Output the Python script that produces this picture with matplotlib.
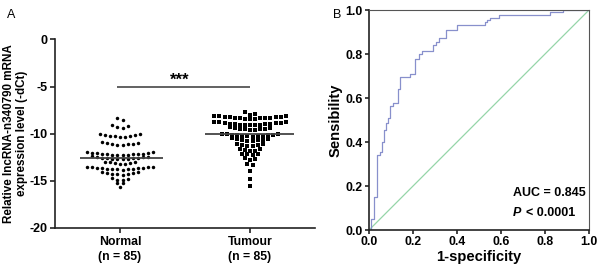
import numpy as np
import matplotlib
matplotlib.use('Agg')
import matplotlib.pyplot as plt

plt.rcParams['font.family'] = ['Liberation Sans', 'DejaVu Sans']
plt.rcParams['axes.unicode_minus'] = False

# panel A data (-dCt), 85 per group
normal = [-8.35, -8.5,
          -9.1, -9.2, -9.3, -9.4,
          -10.0, -10.05, -10.1, -10.15, -10.2, -10.22, -10.25, -10.3, -10.33,
          -10.9, -10.95, -11.0, -11.04, -11.08, -11.12, -11.16, -11.2,
          -11.95, -11.98, -12.0, -12.03, -12.06, -12.1, -12.12, -12.15, -12.18,
          -12.2, -12.22, -12.24, -12.26, -12.28,
          -12.4, -12.43, -12.46, -12.5, -12.53, -12.56, -12.6, -12.62, -12.65,
          -12.68, -12.7, -12.72,
          -12.95, -13.0, -13.05, -13.1, -13.15, -13.2, -13.25,
          -13.5, -13.52, -13.55, -13.58, -13.6, -13.62, -13.65, -13.68, -13.7,
          -13.72, -13.74, -13.76, -13.78, -13.8,
          -14.05, -14.1, -14.15, -14.2, -14.25, -14.28, -14.32, -14.35,
          -14.7, -14.8, -14.9, -14.95,
          -15.2, -15.25,
          -15.7]
tumour = [-7.66, -7.95, -8.0,
          -8.1, -8.12, -8.15, -8.18, -8.2, -8.23, -8.26, -8.29, -8.32, -8.34,
          -8.36, -8.38, -8.4, -8.42, -8.44,
          -8.75, -8.77, -8.8, -8.83, -8.86, -8.89, -8.92, -8.95, -8.97, -9.0,
          -9.02, -9.04, -9.06, -9.07, -9.08,
          -9.3, -9.35, -9.4, -9.45, -9.48, -9.5, -9.53, -9.56, -9.6,
          -10.0, -10.03, -10.06, -10.09, -10.12, -10.15, -10.18, -10.2, -10.23,
          -10.25, -10.28, -10.3,
          -10.5, -10.55, -10.6, -10.63, -10.67, -10.7, -10.75, -10.8,
          -11.05, -11.1, -11.15, -11.2, -11.28, -11.35,
          -11.6, -11.65, -11.7, -11.8, -11.85,
          -12.1, -12.15, -12.2, -12.3,
          -12.6, -12.65, -12.75,
          -13.25, -13.35,
          -14.0,
          -14.8,
          -15.5]
groups = ['Normal\n(n = 85)', 'Tumour\n(n = 85)']

# panel B ROC steps
fpr = [0.0, 0.01, 0.022, 0.036, 0.048, 0.057, 0.067, 0.075, 0.086, 0.094, 0.109,
       0.13, 0.142, 0.187, 0.21, 0.228, 0.243, 0.29, 0.303, 0.318, 0.352, 0.399,
       0.527, 0.537, 0.548, 0.592, 0.823, 0.883, 1.0]
tpr = [0.0, 0.05, 0.152, 0.342, 0.356, 0.40, 0.455, 0.485, 0.508, 0.565, 0.578,
       0.64, 0.697, 0.71, 0.778, 0.80, 0.812, 0.843, 0.855, 0.874, 0.908, 0.932,
       0.944, 0.955, 0.965, 0.977, 0.99, 1.0, 1.0]
auc_txt = 'AUC = 0.845'
p_txt = '< 0.0001'


def row_scatter(vals, center, xpx, h=0.36, step=5.1):
    # group values into rows (like prism scatter dot plot), lowest value in the middle
    vals = np.asarray(vals, float)
    xs = np.zeros(len(vals))
    rows = []
    for i in np.argsort(-vals, kind='stable'):
        if rows and rows[-1][0] - vals[i] <= h:
            rows[-1][1].append(i)
        else:
            rows.append([vals[i], [i]])
    for top, idx in rows:
        idx = sorted(idx, key=lambda k: vals[k])
        n = len(idx)
        if n % 2:
            slots = [0] + [s * k for k in range(1, n) for s in (1, -1)]
        else:
            slots = [s * (k - 0.5) for k in range(1, n) for s in (1, -1)]
        for k, s in zip(idx, slots):
            xs[k] = s * step
    return center + xs / xpx


fig = plt.figure(figsize=(6.04, 2.72), dpi=100)

ax = fig.add_axes([0.0911, 0.1618, 0.4305, 0.693])
ax.set_xlim(0.5, 2.5)
ax.set_ylim(-20, 0)
xpx = 0.4305 * 604 / 2

xn = row_scatter(normal, 1, xpx)
xt = row_scatter(tumour, 2, xpx)
ax.plot(xn, normal, 'o', color='black', ms=2.5, mew=0)
ax.plot(xt, tumour, 's', color='black', ms=2.3, mew=0)
ax.hlines(np.median(normal), 0.69, 1.33, color='#444444', lw=1.3)
ax.hlines(np.median(tumour), 1.65, 2.34, color='#444444', lw=1.3)

ax.hlines(-5, 0.98, 2.0, color='#555555', lw=1.3)
ax.text(1.46, -4.85, '***', ha='center', va='baseline', fontsize=12, fontweight='bold')

ax.set_yticks([0, -5, -10, -15, -20])
ax.set_xticks([1, 2])
ax.set_xticklabels(groups, fontweight='bold', fontsize=8.8, linespacing=1.4)
for lab in ax.get_yticklabels():
    lab.set_fontweight('bold')
    lab.set_fontsize(9)
ax.set_ylabel('Relative lncRNA-n340790 mRNA\nexpression level (-dCt)',
              fontweight='bold', fontsize=8.4, labelpad=1, linespacing=1.1)
for s in ['top', 'right']:
    ax.spines[s].set_visible(False)
for s in ['left', 'bottom']:
    ax.spines[s].set_linewidth(1.2)
    ax.spines[s].set_color('#222222')
ax.tick_params(width=1.2, length=3.5, color='#222222', pad=2)

fig.text(0.012, 0.935, 'A', fontsize=9)

bx = fig.add_axes([0.611, 0.1544, 0.3642, 0.8088])
bx.plot([0, 1], [0, 1], color='#95d5a8', lw=0.9)
bx.step(fpr, tpr, where='post', color='#8890cc', lw=0.9)
bx.set_xlim(0, 1)
bx.set_ylim(0, 1)
ticks = [0.0, 0.2, 0.4, 0.6, 0.8, 1.0]
bx.set_xticks(ticks)
bx.set_yticks(ticks)
bx.set_xticklabels(['%.1f' % t for t in ticks], fontweight='bold', fontsize=8.8)
bx.set_yticklabels(['%.1f' % t for t in ticks], fontweight='bold', fontsize=8.8)
bx.set_xlabel('1-specificity', fontweight='bold', fontsize=10.6, labelpad=1)
bx.set_ylabel('Sensibility', fontweight='bold', fontsize=10.6, labelpad=2)
for s in ['left', 'bottom']:
    bx.spines[s].set_linewidth(1.2)
    bx.spines[s].set_color('#222222')
for s in ['top', 'right']:
    bx.spines[s].set_linewidth(0.8)
    bx.spines[s].set_color('#555555')
bx.tick_params(width=1.2, length=3, color='#222222', pad=1.5)
bx.text(0.655, 0.168, auc_txt, ha='left', va='center', fontsize=9, fontweight='bold',
        transform=bx.transAxes)
bx.text(0.655, 0.077, 'P', ha='left', va='center', fontsize=9, fontweight='bold',
        fontstyle='italic', transform=bx.transAxes)
bx.text(0.715, 0.077, p_txt, ha='left', va='center', fontsize=9, fontweight='bold',
        transform=bx.transAxes)

fig.text(0.551, 0.935, 'B', fontsize=9)

fig.savefig('out.png', dpi=100)
